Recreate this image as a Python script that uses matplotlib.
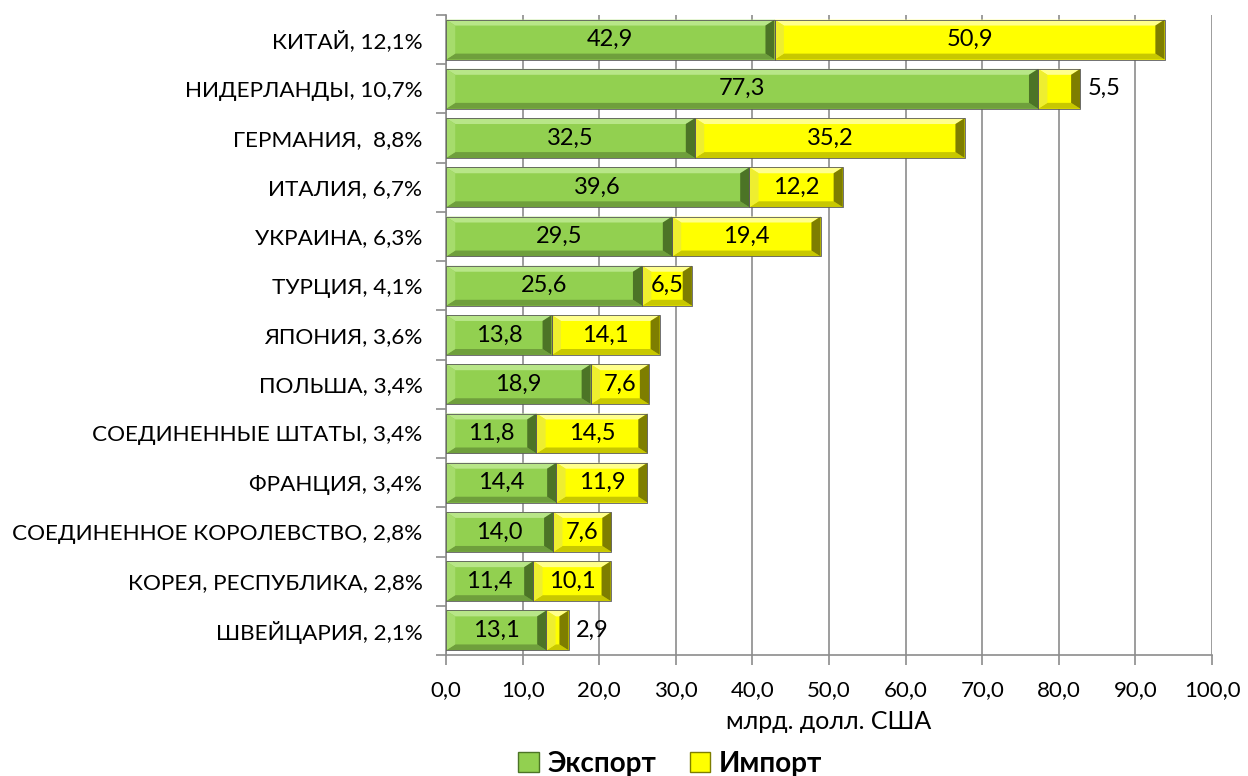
import numpy as np
import matplotlib
matplotlib.use("Agg")
import matplotlib.pyplot as plt
from matplotlib.patches import Polygon, Patch

plt.rcParams['font.family'] = ['Lato', 'DejaVu Sans']

# ---------- data ----------
countries = ["КИТАЙ, 12,1%", "НИДЕРЛАНДЫ, 10,7%", "ГЕРМАНИЯ,  8,8%", "ИТАЛИЯ, 6,7%",
             "УКРАИНА, 6,3%", "ТУРЦИЯ, 4,1%", "ЯПОНИЯ, 3,6%", "ПОЛЬША, 3,4%",
             "СОЕДИНЕННЫЕ ШТАТЫ, 3,4%", "ФРАНЦИЯ, 3,4%",
             "СОЕДИНЕННОЕ КОРОЛЕВСТВО, 2,8%", "КОРЕЯ, РЕСПУБЛИКА, 2,8%",
             "ШВЕЙЦАРИЯ, 2,1%"]
export = [42.9, 77.3, 32.5, 39.6, 29.5, 25.6, 13.8, 18.9, 11.8, 14.4, 14.0, 11.4, 13.1]
imports = [50.9, 5.5, 35.2, 12.2, 19.4, 6.5, 14.1, 7.6, 14.5, 11.9, 7.6, 10.1, 2.9]
xticks = np.arange(0, 101, 10)

GREEN = dict(face="#92d050", top="#b8e688", bottom="#6f9f3c", left="#a6dc6c", right="#4c7426")
YELLOW = dict(face="#ffff00", top="#ffff8c", bottom="#c8c800", left="#eeee30", right="#7e7e00")


def fmt(v):
    return f"{v:.1f}".replace(".", ",")


def bevel_bar(ax, x0, w, yc, h, col, bx, by):
    """Draw a bar with a simple Excel-like bevel (trapezoid edges)."""
    bx = min(bx, w / 2.0)
    y0, y1 = yc - h / 2, yc + h / 2
    x1 = x0 + w
    ax.add_patch(Polygon([(x0, y0), (x1, y0), (x1, y1), (x0, y1)], closed=True,
                         facecolor=col["face"], edgecolor="none", zorder=3))
    # y-axis is inverted, so y0 is the visual top
    ax.add_patch(Polygon([(x0, y0), (x1, y0), (x1 - bx, y0 + by), (x0 + bx, y0 + by)],
                         facecolor=col["top"], edgecolor="none", zorder=3))
    ax.add_patch(Polygon([(x0, y1), (x1, y1), (x1 - bx, y1 - by), (x0 + bx, y1 - by)],
                         facecolor=col["bottom"], edgecolor="none", zorder=3))
    ax.add_patch(Polygon([(x0, y0), (x0 + bx, y0 + by), (x0 + bx, y1 - by), (x0, y1)],
                         facecolor=col["left"], edgecolor="none", zorder=3))
    ax.add_patch(Polygon([(x1, y0), (x1 - bx, y0 + by), (x1 - bx, y1 - by), (x1, y1)],
                         facecolor=col["right"], edgecolor="none", zorder=3))
    ax.add_patch(Polygon([(x0, y0), (x1, y0), (x1, y1), (x0, y1)], closed=True,
                         facecolor="none", edgecolor="#5a5a5a", linewidth=0.6, zorder=4))


fig = plt.figure(figsize=(12.48, 7.76), dpi=100)
ax = fig.add_axes([0.3574, 0.1559, 0.6138, 0.8248])

n = len(countries)
y = np.arange(n)
h = 0.81
bx, by = 1.2, 0.12

for i in range(n):
    bevel_bar(ax, 0, export[i], y[i], h, GREEN, bx, by)
    bevel_bar(ax, export[i], imports[i], y[i], h, YELLOW, bx, by)
    ax.text(export[i] / 2, y[i], fmt(export[i]), ha="center", va="center",
            fontsize=17, color="black", zorder=5)
    if imports[i] < 6:
        ax.text(export[i] + imports[i] + 1.0, y[i], fmt(imports[i]), ha="left",
                va="center", fontsize=17, color="black", zorder=5)
    else:
        ax.text(export[i] + imports[i] / 2, y[i], fmt(imports[i]), ha="center",
                va="center", fontsize=17, color="black", zorder=5)

ax.set_xlim(0, 100)
ax.set_ylim(n - 0.5, -0.5)

ax.set_xticks(xticks)
ax.set_xticklabels([fmt(v) for v in xticks], fontsize=16)
ax.xaxis.grid(True, color="#8c8c8c", linewidth=1.2, zorder=0)
ax.set_axisbelow(True)

ax.set_yticks(np.arange(-0.5, n, 1.0))
ax.set_yticklabels([])
ax.set_yticks(y, minor=True)
ax.set_yticklabels(countries, minor=True, fontsize=16.2)
ax.tick_params(axis="y", which="minor", length=0, pad=17)
ax.tick_params(axis="y", which="major", length=7, color="#8c8c8c", width=1.2)
ax.tick_params(axis="x", length=7, color="#8c8c8c", width=1.2, pad=11)

for s in ["top", "right"]:
    ax.spines[s].set_visible(False)
for s in ["left", "bottom"]:
    ax.spines[s].set_color("#8c8c8c")
    ax.spines[s].set_linewidth(1.2)

ax.set_xlabel("млрд. долл. США", fontsize=18, labelpad=7)

handles = [Patch(facecolor=GREEN["face"], edgecolor="#4c7426", label="Экспорт"),
           Patch(facecolor=YELLOW["face"], edgecolor="#7e7e00", label="Импорт")]
fig.legend(handles=handles, loc="center", bbox_to_anchor=(0.537, 0.016), ncol=2,
           frameon=False, prop=dict(weight="bold", size=20), handlelength=0.75,
           handleheight=0.75, handletextpad=0.3, columnspacing=1.2,
           borderpad=0.1)

fig.savefig("out.png", dpi=100)
